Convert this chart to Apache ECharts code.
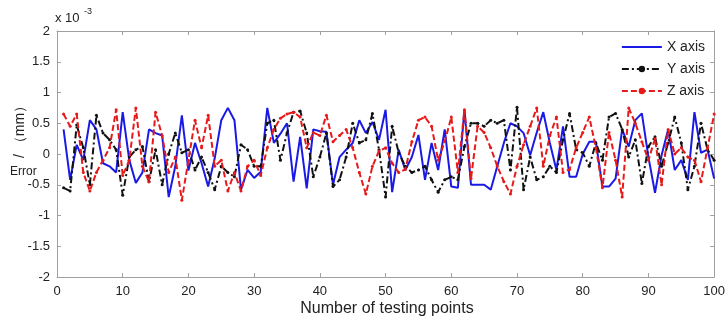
<!DOCTYPE html>
<html>
<head>
<meta charset="utf-8">
<script src="https://cdn.jsdelivr.net/npm/echarts@6/dist/echarts.min.js"></script>
<style>
  html, body { margin: 0; padding: 0; background: #fff; }
  #chart { width: 728px; height: 320px; }
</style>
</head>
<body>
<div id="chart"></div>
<script>
// testing point index (1..100)
const testPoints = Array.from({ length: 100 }, (_, i) => i + 1);

// errors, in units of 1e-3 mm
const xAxisErr = [
  0.40, -0.42, 0.15, -0.10, 0.55, 0.40, -0.15, -0.20, -0.30, 0.68,
  -0.10, -0.47, -0.30, 0.40, 0.34, 0.30, -0.70, -0.20, 0.63, -0.27,
  0.18, -0.15, -0.53, -0.07, 0.55, 0.75, 0.55, -0.58, -0.26, -0.39,
  -0.29, 0.75, 0.18, 0.33, 0.50, -0.45, 0.28, -0.56, 0.40, 0.37,
  0.36, -0.50, -0.05, 0.07, 0.18, 0.55, 0.34, 0.52, 0.23, 0.72,
  -0.62, 0.07, -0.26, -0.05, 0.31, -0.42, 0.18, -0.26, 0.40, -0.53,
  -0.55, 0.72, -0.50, -0.50, -0.50, -0.58, -0.20, 0.18, 0.50, 0.45,
  0.34, -0.02, 0.35, 0.68, 0.18, -0.26, 0.45, -0.37, -0.37, 0.00,
  0.20, 0.20, -0.53, -0.53, -0.40, 0.40, 0.12, 0.55, 0.66, -0.05,
  -0.63, -0.02, 0.40, -0.26, -0.10, -0.42, 0.68, 0.02, 0.07, -0.40
];
const yAxisErr = [
  -0.55, -0.60, 0.47, 0.10, -0.50, 0.63, 0.34, 0.23, 0.07, -0.67,
  -0.05, 0.07, 0.12, -0.45, 0.07, -0.50, 0.00, 0.34, 0.02, 0.07,
  -0.26, -0.05, -0.30, -0.58, -0.20, -0.30, -0.37, 0.15, 0.07, -0.20,
  -0.20, 0.50, 0.55, -0.10, 0.34, 0.68, 0.70, 0.34, -0.37, -0.05,
  0.34, -0.53, -0.42, -0.05, 0.50, 0.18, 0.23, 0.66, 0.07, -0.70,
  0.45, 0.02, -0.20, -0.30, -0.26, -0.20, -0.42, -0.62, -0.42, -0.37,
  -0.42, 0.12, 0.50, 0.50, 0.45, 0.55, 0.50, 0.55, -0.26, 0.76,
  -0.58, -0.05, -0.42, -0.37, -0.20, -0.30, 0.23, 0.66, 0.07, 0.02,
  -0.20, 0.18, -0.10, 0.60, 0.66, 0.40, -0.05, 0.23, -0.48, 0.12,
  0.28, -0.20, 0.18, 0.60, 0.18, -0.58, -0.20, 0.50, 0.07, -0.10
];
const zAxisErr = [
  0.65, 0.45, 0.65, -0.30, -0.60, -0.30, -0.10, 0.10, 0.72, -0.35,
  -0.10, 0.75, -0.20, -0.45, 0.68, 0.30, -0.30, -0.05, -0.75, -0.10,
  0.55, 0.10, 0.63, -0.20, -0.10, -0.60, -0.30, -0.60, -0.20, -0.10,
  -0.35, 0.10, 0.40, 0.58, 0.65, 0.68, 0.60, 0.10, 0.35, 0.30,
  0.63, 0.20, 0.30, 0.40, 0.10, -0.30, -0.65, -0.20, 0.05, 0.10,
  -0.15, -0.30, -0.25, 0.20, 0.55, 0.60, 0.45, -0.10, 0.20, 0.60,
  -0.30, 0.72, -0.40, 0.45, 0.35, 0.10, -0.20, -0.45, -0.65, -0.20,
  0.15, 0.45, 0.75, -0.20, 0.30, 0.60, -0.30, -0.25, 0.10, 0.35,
  0.60, 0.10, -0.55, 0.35, -0.10, -0.70, 0.75, 0.50, 0.20, -0.10,
  0.25, -0.50, 0.40, 0.00, 0.10, -0.05, -0.10, -0.45, 0.10, 0.65
];

const seriesNames = ['X axis', 'Y axis', 'Z axis'];
const FONT = 'Liberation Sans';
const AXIS_GREY = '#a0a0a0';

const pairs = vals => vals.map((v, i) => [testPoints[i], v]);

const chart = echarts.init(document.getElementById('chart'), null, { renderer: 'canvas' });

const tickStyle = { show: true, inside: true, length: 4, lineStyle: { color: AXIS_GREY } };
const lineStyle = { show: true, onZero: false, lineStyle: { color: AXIS_GREY } };
const labelStyle = { color: '#222', fontFamily: FONT, fontSize: 13 };

chart.setOption({
  animation: false,
  backgroundColor: '#fff',
  grid: { left: 57, right: 11, top: 31, bottom: 43 },
  xAxis: [
    {
      type: 'value', min: 0, max: 100, interval: 10,
      axisLine: lineStyle,
      axisTick: tickStyle,
      axisLabel: Object.assign({ margin: 8 }, labelStyle),
      splitLine: { show: false }
    },
    {
      type: 'value', position: 'top', min: 0, max: 100, interval: 10,
      axisLine: lineStyle,
      axisTick: tickStyle,
      axisLabel: { show: false },
      splitLine: { show: false }
    }
  ],
  yAxis: [
    {
      type: 'value', min: -2, max: 2, interval: 0.5,
      axisLine: lineStyle,
      axisTick: tickStyle,
      axisLabel: Object.assign({ margin: 7 }, labelStyle),
      splitLine: { show: false }
    },
    {
      type: 'value', position: 'right', min: -2, max: 2, interval: 0.5,
      axisLine: lineStyle,
      axisTick: tickStyle,
      axisLabel: { show: false },
      splitLine: { show: false }
    }
  ],
  legend: {
    orient: 'vertical',
    right: 18,
    top: 35,
    itemWidth: 40,
    itemHeight: 8,
    itemGap: 8,
    textStyle: { color: '#222', fontFamily: FONT, fontSize: 14 },
    data: [
      { name: seriesNames[0], itemStyle: { opacity: 0 } },
      { name: seriesNames[1] },
      { name: seriesNames[2] }
    ]
  },
  series: [
    {
      name: seriesNames[0],
      type: 'line',
      data: pairs(xAxisErr),
      symbol: 'none',
      lineStyle: { color: '#1a1ae6', width: 2 },
      itemStyle: { color: '#1a1ae6' },
      z: 3
    },
    {
      name: seriesNames[1],
      type: 'line',
      data: pairs(yAxisErr),
      symbol: 'circle',
      symbolSize: 3,
      lineStyle: { color: '#111', width: 2, type: [7, 3, 2, 3] },
      itemStyle: { color: '#111' },
      z: 4
    },
    {
      name: seriesNames[2],
      type: 'line',
      data: pairs(zAxisErr),
      symbol: 'circle',
      symbolSize: 3,
      lineStyle: { color: '#e61a1a', width: 2, type: [6, 3] },
      itemStyle: { color: '#e61a1a' },
      z: 5
    }
  ],
  graphic: [
    {
      type: 'text', left: 55, top: 12,
      style: { text: 'x 10', fill: '#222', font: '13px "Liberation Sans"' }
    },
    {
      type: 'text', left: 84, top: 7,
      style: { text: '-3', fill: '#222', font: '9px "Liberation Sans"' }
    },
    {
      type: 'text', left: 10, top: 166,
      style: { text: 'Error', fill: '#222', font: '12px "Liberation Sans"' }
    },
    {
      type: 'text', x: 20, y: 158, rotation: Math.PI / 2,
      style: { text: '/ \uff08mm\uff09', fill: '#222', font: '14px "Liberation Sans"', align: 'left', verticalAlign: 'middle' }
    },
    {
      type: 'text', x: 387, y: 309,
      style: { text: 'Number of testing points', fill: '#222', font: '16px "Liberation Sans"', align: 'center', verticalAlign: 'middle' }
    }
  ]
});
</script>
</body>
</html>
